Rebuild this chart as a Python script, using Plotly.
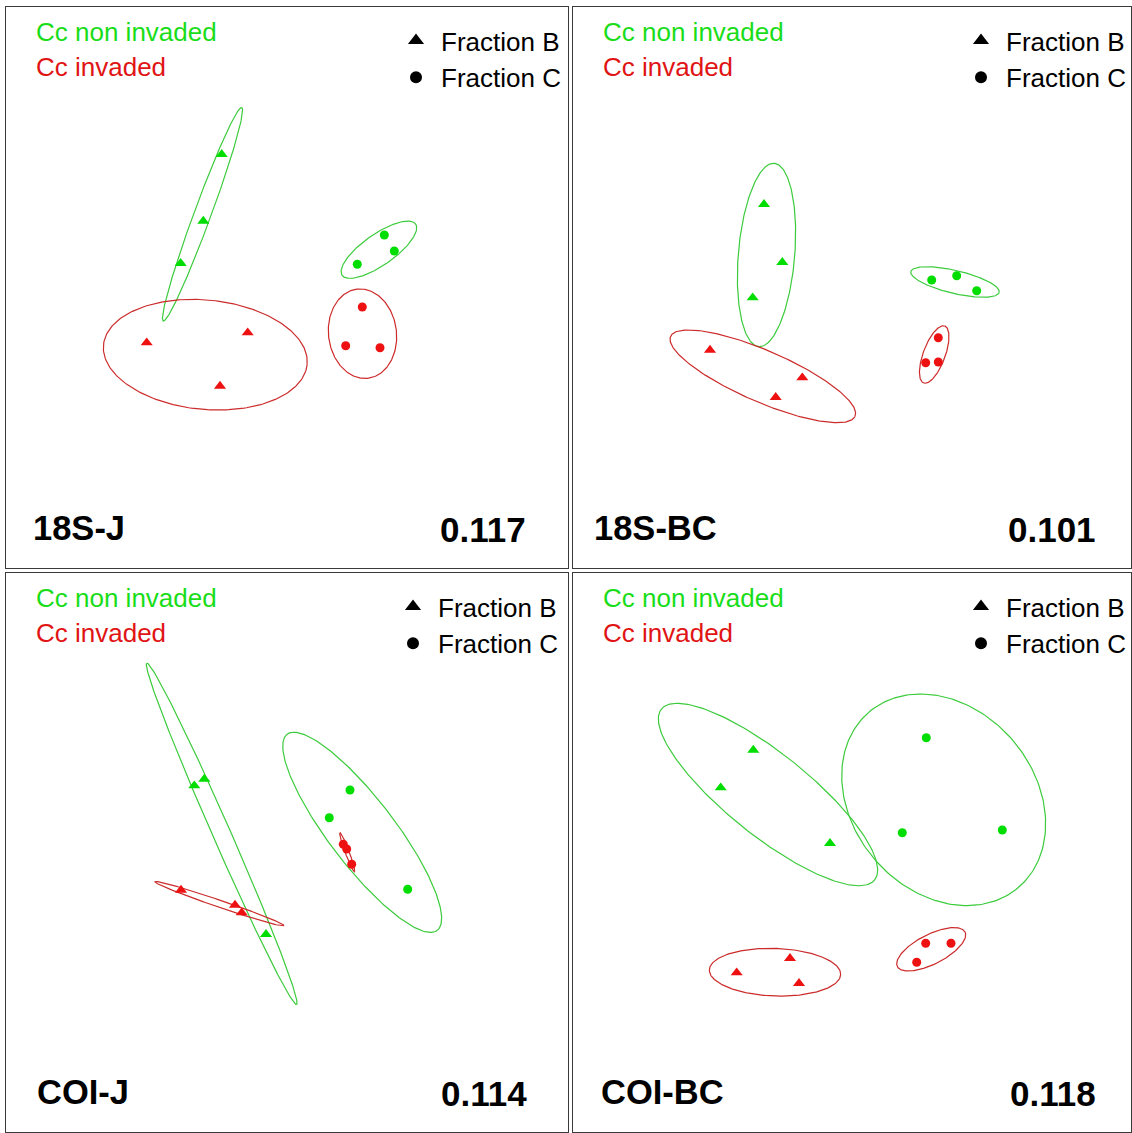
import numpy as np
import plotly.graph_objects as go

# ---------------- data (NMDS-like coordinates) ----------------
panel_names = ["18S-J", "18S-BC", "COI-J", "COI-BC"]
stress_values = ["0.117", "0.101", "0.114", "0.118"]

# sample categories (same order in every panel)
status = ["Cc non invaded"] * 6 + ["Cc invaded"] * 6
fraction = ["B", "B", "B", "C", "C", "C"] * 2

x_18SJ = [215.7, 197.3, 174.7, 378.3, 388.3, 351.3, 140.7, 241.7, 214.0, 356.3, 339.7, 374.0]
y_18SJ = [413.7, 347.0, 304.7, 333.0, 317.0, 303.7, 225.3, 235.3, 182.0, 261.0, 222.3, 220.3]

x_18SBC = [191.0, 209.3, 179.7, 358.7, 383.7, 403.7, 137.0, 229.3, 202.7, 365.3, 352.7, 365.3]
y_18SBC = [363.7, 305.7, 270.3, 288.0, 292.3, 277.3, 218.0, 190.3, 170.7, 230.3, 205.3, 206.0]

x_COIJ = [188.3, 198.3, 260.0, 344.0, 323.3, 401.7, 175.0, 229.0, 235.7, 337.3, 340.7, 345.7]
y_COIJ = [346.3, 353.0, 197.7, 342.0, 314.3, 242.7, 242.0, 227.0, 219.3, 287.7, 283.0, 267.7]

x_COIBC = [180.3, 147.7, 257.0, 353.3, 329.3, 429.3, 163.7, 217.0, 226.0, 352.7, 378.0, 343.7]
y_COIBC = [382.0, 344.3, 288.7, 394.3, 299.3, 302.0, 159.3, 173.7, 148.7, 188.7, 188.7, 169.7]

# group ellipses: order = non-invaded B, non-invaded C, invaded B, invaded C
ell_groups = [("Cc non invaded", "B"), ("Cc non invaded", "C"), ("Cc invaded", "B"), ("Cc invaded", "C")]

ell_cx_18SJ = [196.5, 372.9, 199.3, 356.5]
ell_cy_18SJ = [353.7, 318.3, 213.3, 234.3]
ell_a_18SJ = [113.7, 44.8, 102.3, 44.9]
ell_b_18SJ = [8.5, 15.6, 54.7, 34.0]
ell_ang_18SJ = [69.8, 34.9, -5.5, 97.2]

ell_cx_18SBC = [193.5, 382.0, 189.8, 361.2]
ell_cy_18SBC = [313.0, 286.0, 191.7, 213.5]
ell_a_18SBC = [92.0, 45.4, 100.5, 30.4]
ell_b_18SBC = [28.2, 11.5, 25.7, 11.0]
ell_ang_18SBC = [85.2, -13.3, -23.4, 69.6]

ell_cx_COIJ = [215.7, 356.2, 213.5, 341.2]
ell_cy_COIJ = [298.2, 299.7, 228.3, 279.8]
ell_a_COIJ = [186.3, 123.5, 68.1, 20.8]
ell_b_COIJ = [9.0, 32.9, 3.5, 2.0]
ell_ang_COIJ = [113.7, 127.4, -18.8, 110.3]

ell_cx_COIBC = [195.0, 370.7, 202.0, 358.2]
ell_cy_COIBC = [337.5, 332.2, 159.8, 182.7]
ell_a_COIBC = [136.6, 115.2, 65.7, 38.0]
ell_b_COIBC = [41.1, 91.2, 23.8, 14.8]
ell_ang_COIBC = [-38.7, 130.4, -2.0, 27.0]

# ---------------- styling / layout ----------------
W, H = 1132, 1133
FONT = "Arial, 'Liberation Sans', Arimo, sans-serif"
POINT_COL = {"Cc non invaded": "#00DD00", "Cc invaded": "#EE1111"}
ELL_COL = {"Cc non invaded": "#3CCB3C", "Cc invaded": "#CC2B2B"}
TEXT_COL = {"Cc non invaded": "#19DD19", "Cc invaded": "#E01414"}
SYMBOL = {"B": "triangle-up", "C": "circle"}
MSIZE = {"B": 10.5, "C": 9}

# panel boxes in pixels: left, right, top, bottom
boxes = [(6, 568, 7, 568), (573, 1131, 7, 568), (6, 568, 573, 1132), (573, 1131, 573, 1132)]
label_left = [25, 19, 29, 26]
value_right = [522, 525, 523, 525]
legend_sym_x = [410, 408, 407, 408]

panels = [
    (x_18SJ, y_18SJ, ell_cx_18SJ, ell_cy_18SJ, ell_a_18SJ, ell_b_18SJ, ell_ang_18SJ),
    (x_18SBC, y_18SBC, ell_cx_18SBC, ell_cy_18SBC, ell_a_18SBC, ell_b_18SBC, ell_ang_18SBC),
    (x_COIJ, y_COIJ, ell_cx_COIJ, ell_cy_COIJ, ell_a_COIJ, ell_b_COIJ, ell_ang_COIJ),
    (x_COIBC, y_COIBC, ell_cx_COIBC, ell_cy_COIBC, ell_a_COIBC, ell_b_COIBC, ell_ang_COIBC),
]


def ellipse_xy(cx, cy, a, b, ang_deg, n=240):
    t = np.linspace(0, 2 * np.pi, n)
    th = np.radians(ang_deg)
    ex = cx + a * np.cos(th) * np.cos(t) - b * np.sin(th) * np.sin(t)
    ey = cy + a * np.sin(th) * np.cos(t) + b * np.cos(th) * np.sin(t)
    return ex, ey


fig = go.Figure()
annotations = []
layout_extra = {}

for i, (px, py, ecx, ecy, ea, eb, eang) in enumerate(panels):
    l, r, t, b = boxes[i]
    sfx = "" if i == 0 else str(i + 1)
    xa, ya = "x" + sfx, "y" + sfx
    axis_style = dict(showgrid=False, zeroline=False, showticklabels=False, ticks="",
                      showline=True, mirror=True, linecolor="#3a3a3a", linewidth=1.3,
                      fixedrange=True)
    layout_extra["xaxis" + sfx] = dict(domain=[l / W, r / W], range=[0, r - l], anchor=ya, **axis_style)
    layout_extra["yaxis" + sfx] = dict(domain=[(H - b) / H, (H - t) / H], range=[0, b - t], anchor=xa, **axis_style)

    # ellipses
    for k, (st, fr) in enumerate(ell_groups):
        ex, ey = ellipse_xy(ecx[k], ecy[k], ea[k], eb[k], eang[k])
        fig.add_trace(go.Scatter(x=ex, y=ey, mode="lines", xaxis=xa, yaxis=ya,
                                 line=dict(color=ELL_COL[st], width=1.2),
                                 showlegend=False, hoverinfo="skip"))
    # points
    for st in ["Cc non invaded", "Cc invaded"]:
        for fr in ["B", "C"]:
            idx = [j for j in range(len(px)) if status[j] == st and fraction[j] == fr]
            fig.add_trace(go.Scatter(x=[px[j] for j in idx], y=[py[j] for j in idx], mode="markers",
                                     xaxis=xa, yaxis=ya, name=f"{st} - Fraction {fr}",
                                     marker=dict(symbol=SYMBOL[fr], size=MSIZE[fr], color=POINT_COL[st]),
                                     showlegend=False))
    # shape legend (per panel)
    leg = "legend" + sfx
    for fr in ["B", "C"]:
        fig.add_trace(go.Scatter(x=[None], y=[None], mode="markers", xaxis=xa, yaxis=ya,
                                 name=f"Fraction {fr}", legend=leg,
                                 marker=dict(symbol=SYMBOL[fr], size=14 if fr == "B" else 12, color="black")))
    layout_extra[leg] = dict(x=(l + legend_sym_x[i] - 25) / W, y=(H - (t + 10)) / H,
                             xanchor="left", yanchor="top", itemwidth=40,
                             bgcolor="rgba(0,0,0,0)", font=dict(family=FONT, size=26, color="black"),
                             itemclick=False, itemdoubleclick=False)

    # colour key text
    h = b - t
    annotations.append(dict(x=28, y=h - 25, xref=xa, yref=ya, text="Cc non invaded", showarrow=False,
                            xanchor="left", yanchor="middle",
                            font=dict(family=FONT, size=26, color=TEXT_COL["Cc non invaded"])))
    annotations.append(dict(x=28, y=h - 60, xref=xa, yref=ya, text="Cc invaded", showarrow=False,
                            xanchor="left", yanchor="middle",
                            font=dict(family=FONT, size=26, color=TEXT_COL["Cc invaded"])))
    # panel label and stress value
    annotations.append(dict(x=label_left[i], y=40, xref=xa, yref=ya, text=f"<b>{panel_names[i]}</b>",
                            showarrow=False, xanchor="left", yanchor="middle",
                            font=dict(family=FONT, size=34.5, color="black")))
    annotations.append(dict(x=value_right[i], y=39, xref=xa, yref=ya, text=f"<b>{stress_values[i]}</b>",
                            showarrow=False, xanchor="right", yanchor="middle",
                            font=dict(family=FONT, size=35, color="black")))

fig.update_layout(width=W, height=H, margin=dict(l=0, r=0, t=0, b=0),
                  paper_bgcolor="white", plot_bgcolor="white",
                  annotations=annotations, **layout_extra)

fig.write_html("out.html", config={"displayModeBar": False},
               post_script="document.body.style.margin='0';document.body.style.overflow='hidden';")
